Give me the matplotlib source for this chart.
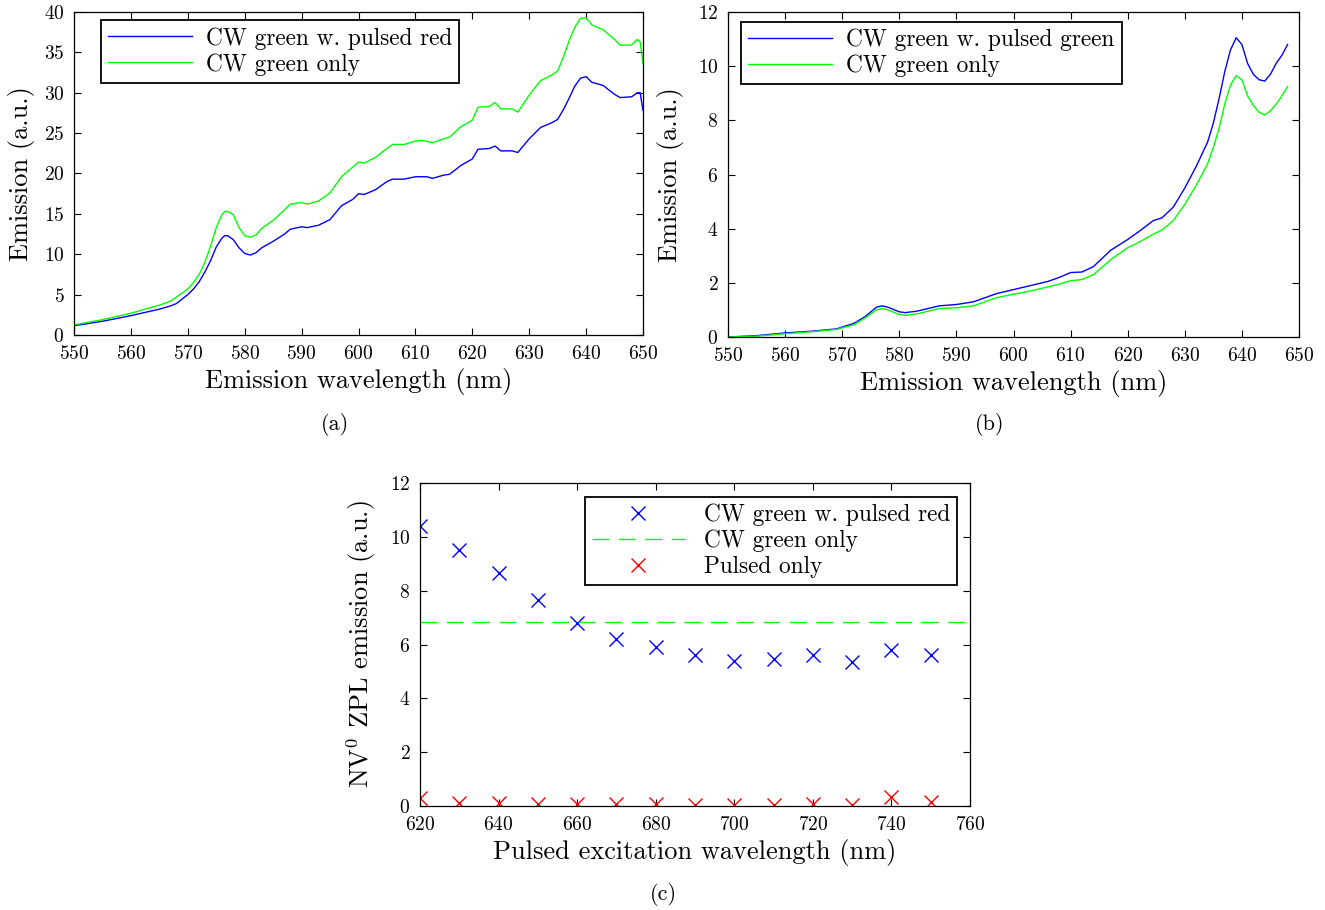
import matplotlib
matplotlib.use("Agg")
import matplotlib.pyplot as plt

plt.rcParams['font.family'] = ['cmr10', 'DejaVu Serif']
plt.rcParams['mathtext.fontset'] = 'cm'
plt.rcParams['axes.formatter.use_mathtext'] = True

# ---- Panel (a) data ----
wl_a = [550, 555, 560, 565, 567, 568, 570, 571, 572, 573, 574, 575, 576, 576.5, 577, 578, 579, 580, 581, 582, 583, 585,
        587, 588, 590, 591, 593, 595, 597, 599, 600, 601, 603, 605, 606, 608, 610, 611, 612, 613,
        615, 616, 618, 620, 621, 623, 624, 625, 627, 628, 630, 632, 634, 635, 636, 637, 638, 639, 640, 641,
        643, 645, 646, 648, 649, 649.5, 650]
blue_a = [1.15, 1.7, 2.4, 3.2, 3.6, 3.9, 5.0, 5.7, 6.6, 7.8, 9.2, 10.9, 12.0, 12.3, 12.3, 11.8, 10.8, 10.1, 9.9, 10.2, 10.8, 11.6,
          12.5, 13.1, 13.4, 13.3, 13.6, 14.3, 16.0, 16.8, 17.5, 17.4, 18.0, 19.0, 19.3, 19.3, 19.6, 19.6, 19.6, 19.4,
          19.8, 19.9, 21.0, 21.8, 23.0, 23.1, 23.4, 22.8, 22.8, 22.6, 24.3, 25.7, 26.3, 26.7, 27.9, 29.3, 30.8, 31.8, 32.0, 31.3,
          30.9, 29.8, 29.4, 29.5, 30.0, 30.0, 27.8]
green_a = [1.25, 1.9, 2.7, 3.7, 4.2, 4.7, 5.7, 6.5, 7.5, 9.0, 11.0, 13.3, 14.9, 15.3, 15.3, 14.9, 13.3, 12.3, 12.1, 12.4, 13.2, 14.2,
           15.5, 16.2, 16.4, 16.2, 16.6, 17.6, 19.6, 20.8, 21.4, 21.3, 22.0, 23.1, 23.6, 23.6, 24.0, 24.1, 24.0, 23.8,
           24.3, 24.5, 25.8, 26.6, 28.2, 28.3, 28.8, 28.0, 28.0, 27.6, 29.7, 31.5, 32.2, 32.7, 34.4, 36.4, 38.1, 39.2, 39.3, 38.4,
           37.8, 36.6, 35.9, 35.9, 36.6, 36.3, 33.6]

# ---- Panel (b) data ----
wl_b = [550, 555, 560, 565, 569, 572, 574, 576, 577, 578, 580, 581, 583, 585, 587, 590, 593, 595, 597, 600,
        603, 606, 608, 610, 612, 614, 617, 620, 622, 624.5, 626, 628, 630, 632, 634, 635, 636, 637, 638, 639,
        640, 641, 642, 643, 644, 645, 646, 647, 648]
blue_b = [0.0, 0.05, 0.15, 0.22, 0.3, 0.5, 0.75, 1.1, 1.15, 1.1, 0.93, 0.9, 0.95, 1.05, 1.15, 1.2, 1.3, 1.45, 1.6, 1.75,
          1.9, 2.05, 2.2, 2.38, 2.4, 2.6, 3.2, 3.6, 3.9, 4.3, 4.4, 4.8, 5.5, 6.3, 7.2, 7.9, 8.8, 9.8, 10.6, 11.05,
          10.8, 10.1, 9.7, 9.5, 9.45, 9.7, 10.1, 10.4, 10.8]
green_b = [0.0, 0.03, 0.12, 0.2, 0.28, 0.45, 0.7, 1.0, 1.05, 1.0, 0.83, 0.8, 0.85, 0.95, 1.05, 1.08, 1.15, 1.3, 1.45, 1.58,
           1.7, 1.85, 1.95, 2.08, 2.12, 2.3, 2.85, 3.3, 3.5, 3.8, 3.95, 4.3, 4.9, 5.6, 6.4, 7.0, 7.7, 8.6, 9.3, 9.65,
           9.5, 8.9, 8.55, 8.3, 8.2, 8.35, 8.6, 8.9, 9.25]

# ---- Panel (c) data ----
wl_c = [620, 630, 640, 650, 660, 670, 680, 690, 700, 710, 720, 730, 740, 750]
pulsed_red = [10.4, 9.5, 8.65, 7.65, 6.8, 6.2, 5.9, 5.6, 5.4, 5.45, 5.6, 5.35, 5.8, 5.6]
cw_only_level = 6.85
pulsed_only = [0.28, 0.12, 0.12, 0.07, 0.07, 0.07, 0.09, 0.05, 0.05, 0.03, 0.07, 0.04, 0.35, 0.15]

W, H = 1325, 910
fig = plt.figure(figsize=(W / 100, H / 100), dpi=100)


def pax(l, t, r, b):
    return fig.add_axes([l / W, 1 - b / H, (r - l) / W, (b - t) / H])


TICK_FS = 14
LAB_FS = 19
LEG_FS = 16.8
SUB_FS = 16


def style(ax):
    ax.tick_params(direction='in', top=True, right=True, labelsize=TICK_FS, length=5, width=0.8, pad=7)
    for s in ax.spines.values():
        s.set_linewidth(0.9)


def legend(ax, **kw):
    lg = ax.legend(fontsize=LEG_FS, fancybox=False, edgecolor='black', framealpha=1,
                   borderpad=0.3, labelspacing=0.15, handlelength=3.6, handletextpad=0.6,
                   borderaxespad=0, **kw)
    lg.get_frame().set_linewidth(1.3)
    return lg


# (a)
ax = pax(74, 12, 643, 335)
ax.plot(wl_a, blue_a, color=(0, 0, 1), lw=1.0, label='CW green w. pulsed red')
ax.plot(wl_a, green_a, color=(0, 1, 0), lw=1.0, label='CW green only')
ax.set_xlim(550, 650)
ax.set_ylim(0, 40)
ax.set_xticks(range(550, 651, 10))
ax.set_yticks(range(0, 41, 5))
ax.set_xlabel('Emission wavelength (nm)', fontsize=LAB_FS, labelpad=4)
ax.set_ylabel('Emission (a.u.)', fontsize=LAB_FS, labelpad=6)
style(ax)
legend(ax, loc='upper left', bbox_to_anchor=(0.047, 0.975))
fig.text(335 / W, 1 - 425 / H, '(a)', ha='center', va='center', fontsize=SUB_FS)

# (b)
ax = pax(728, 12, 1299, 337)
ax.plot(wl_b, blue_b, color=(0, 0, 1), lw=1.0, label='CW green w. pulsed green')
ax.plot(wl_b, green_b, color=(0, 1, 0), lw=1.0, label='CW green only')
ax.set_xlim(550, 650)
ax.set_ylim(0, 12)
ax.set_xticks(range(550, 651, 10))
ax.set_yticks(range(0, 13, 2))
ax.set_xlabel('Emission wavelength (nm)', fontsize=LAB_FS, labelpad=4)
ax.set_ylabel('Emission (a.u.)', fontsize=LAB_FS, labelpad=10)
style(ax)
legend(ax, loc='upper left', bbox_to_anchor=(0.023, 0.97))
fig.text(990 / W, 1 - 425 / H, '(b)', ha='center', va='center', fontsize=SUB_FS)

# (c)
ax = pax(420, 483, 970, 806)
ax.plot(wl_c, pulsed_red, linestyle='none', marker='x', ms=10, mew=1.0, color=(0, 0, 1),
        label='CW green w. pulsed red')
ax.axhline(cw_only_level, color=(0, 1, 0), lw=1.0, dashes=(12, 7), label='CW green only')
ax.plot(wl_c, pulsed_only, linestyle='none', marker='x', ms=10, mew=1.0, color=(1, 0, 0),
        label='Pulsed only')
ax.set_xlim(620, 760)
ax.set_ylim(0, 12)
ax.set_xticks(range(620, 761, 20))
ax.set_yticks(range(0, 13, 2))
ax.set_xlabel('Pulsed excitation wavelength (nm)', fontsize=LAB_FS, labelpad=4)
ax.set_ylabel(r'NV$^0$ ZPL emission (a.u.)', fontsize=LAB_FS, labelpad=8)
style(ax)
lg = ax.legend(fontsize=LEG_FS, fancybox=False, edgecolor='black', framealpha=1,
               borderpad=0.3, labelspacing=0.15, handlelength=4.0, handletextpad=0.8,
               borderaxespad=0, loc='upper right', bbox_to_anchor=(0.976, 0.957))
lg.get_frame().set_linewidth(1.3)
fig.text(663 / W, 1 - 895 / H, '(c)', ha='center', va='center', fontsize=SUB_FS)

fig.savefig('out.png', dpi=100)
